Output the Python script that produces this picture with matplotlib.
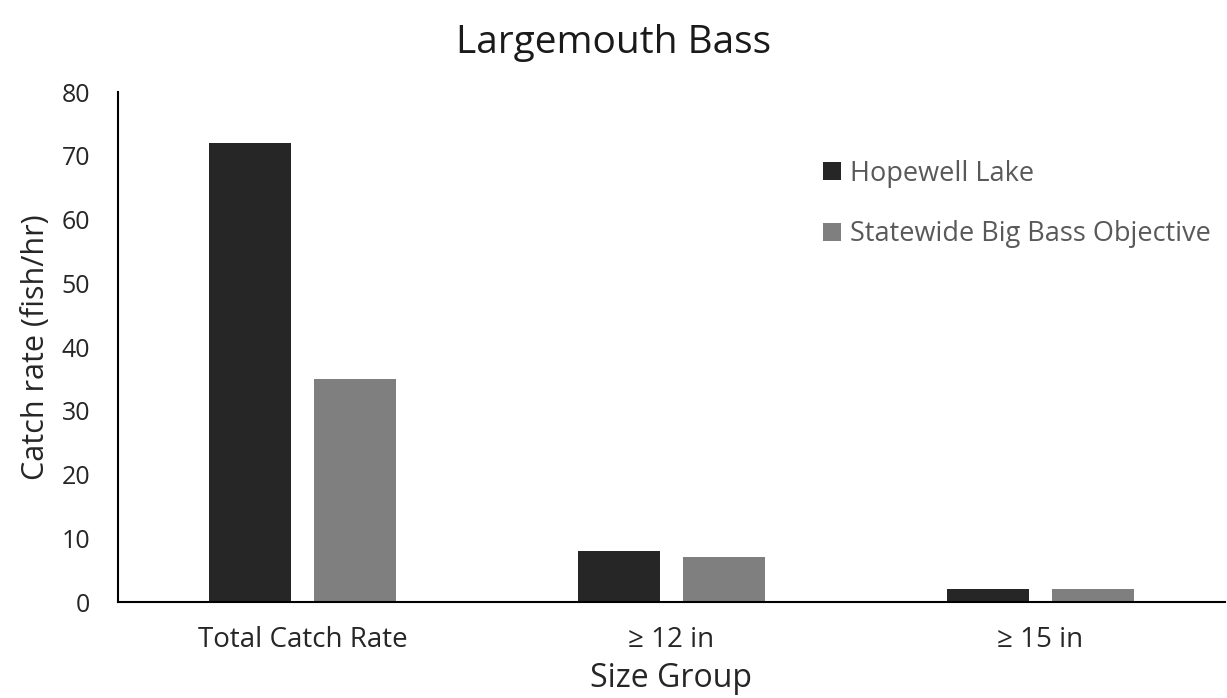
import matplotlib
matplotlib.use('Agg')
import matplotlib.pyplot as plt
import numpy as np

plt.rcParams['font.family'] = ['Open Sans', 'DejaVu Sans']

categories = ['Total Catch Rate', '≥ 12 in', '≥ 15 in']
hopewell = [72, 8, 2]
statewide = [35, 7, 2]
series_names = ['Hopewell Lake', 'Statewide Big Bass Objective']

dark = '#262626'
light = '#7f7f7f'

fig = plt.figure(figsize=(12.27, 6.98), dpi=100)
ax = fig.add_axes([0.0962, 0.1375, 0.902, 0.7305])

x = np.arange(len(categories))
w = 0.222
ax.bar(x - 0.143, hopewell, w, color=dark, label=series_names[0])
ax.bar(x + 0.143, statewide, w, color=light, label=series_names[1])

ax.set_xlim(-0.5, 2.5)
ax.set_ylim(0, 80)
ax.set_yticks(range(0, 81, 10))
ax.set_xticks(x)
ax.set_xticklabels(categories)
ax.tick_params(axis='y', length=0, labelsize=18, colors='#262626', pad=20)
ax.tick_params(axis='x', length=0, labelsize=20, colors='#262626', pad=17)

for s in ['top', 'right']:
    ax.spines[s].set_visible(False)
for s in ['left', 'bottom']:
    ax.spines[s].set_linewidth(1.5)
    ax.spines[s].set_color('black')

ax.set_ylabel('Catch rate (fish/hr)', fontsize=22, color='#262626', labelpad=8)
ax.set_xlabel('Size Group', fontsize=23, color='#262626', labelpad=6)
fig.suptitle('Largemouth Bass', fontsize=28, color='#1a1a1a', y=0.965)

leg = ax.legend(loc='upper left', bbox_to_anchor=(0.615, 0.915), frameon=False,
                fontsize=19.5, labelspacing=1.2, handlelength=0.65, handleheight=0.65,
                handletextpad=0.35)
for t in leg.get_texts():
    t.set_color('#595959')

fig.savefig('out.png', dpi=100)
